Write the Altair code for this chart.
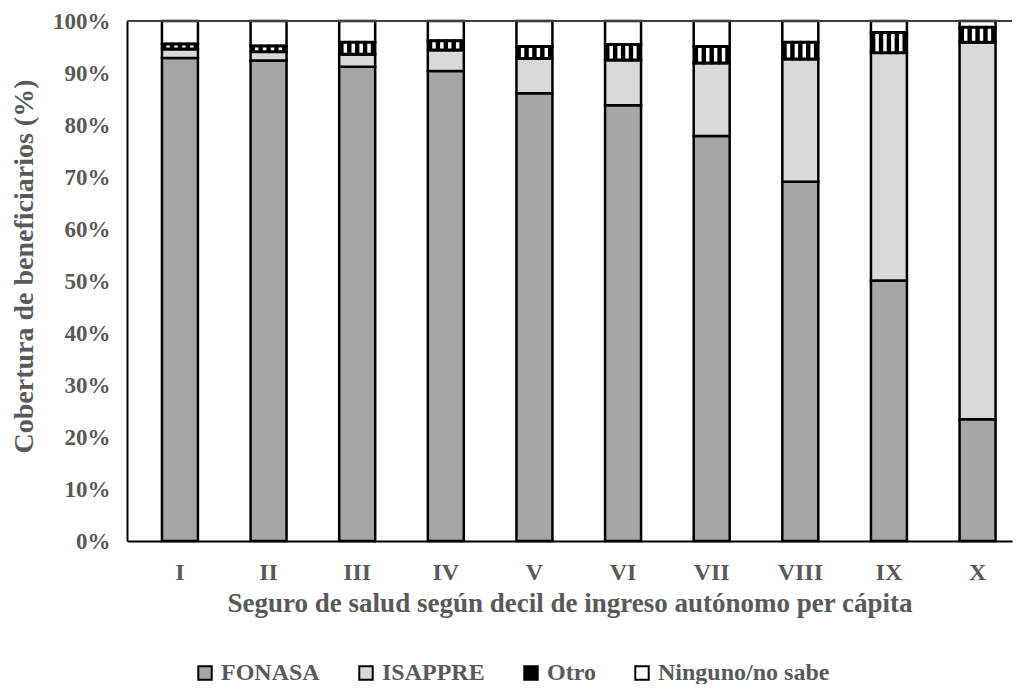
import altair as alt
import pandas as pd

deciles = ["I", "II", "III", "IV", "V", "VI", "VII", "VIII", "IX", "X"]
fonasa = [92.9, 92.4, 91.2, 90.4, 86.1, 83.8, 77.9, 69.1, 50.1, 23.4]
isapre = [1.7, 1.7, 2.4, 4.0, 6.7, 8.7, 14.0, 23.6, 43.8, 72.5]
otro = [1.0, 1.1, 2.3, 1.8, 2.3, 3.0, 3.2, 3.2, 3.9, 2.9]
ninguno = [4.4, 4.8, 4.1, 3.8, 4.9, 4.5, 4.9, 4.1, 2.2, 1.2]

series = ["FONASA", "ISAPPRE", "Otro", "Ninguno/no sabe"]
colors = ["#a6a6a6", "#d9d9d9", "#000000", "#ffffff"]
y_ticks = list(range(0, 101, 10))
stripe_ids = [0, 1, 2, 3]

FONT = "Liberation Serif"
GRAY = "#595959"

rows = []
stripes = []
for i, d in enumerate(deciles):
    base = 0.0
    for k, (s, vals) in enumerate(zip(series, [fonasa, isapre, otro, ninguno])):
        v = vals[i]
        rows.append({"decil": d, "serie": s, "y0": base, "y1": base + v, "orden": k})
        if s == "Otro":
            for sid in stripe_ids:
                stripes.append({"decil": d, "s": sid, "y0": base, "y1": base + v})
        base += v

df = pd.DataFrame(rows)
df_str = pd.DataFrame(stripes)

x_enc = alt.X(
    "decil:N",
    sort=deciles,
    scale=alt.Scale(paddingInner=0.594, paddingOuter=0.29, align=0.68),
    axis=alt.Axis(
        title="Seguro de salud según decil de ingreso autónomo per cápita",
        labelAngle=0,
        ticks=False,
        grid=False,
        domainColor="black",
        domainWidth=2,
        labelPadding=19,
        labelFont=FONT,
        labelFontSize=24,
        labelFontWeight="bold",
        labelColor=GRAY,
        titleFont=FONT,
        titleFontSize=27,
        titleFontWeight="bold",
        titleColor=GRAY,
        titlePadding=6,
    ),
)

y_scale = alt.Scale(domain=[0, 100], nice=False)

bars = alt.Chart(df).mark_bar(stroke="black", strokeWidth=2.5).encode(
    x=x_enc,
    y=alt.Y(
        "y0:Q",
        scale=y_scale,
        axis=alt.Axis(
            values=y_ticks,
            labelExpr="datum.value + '%'",
            ticks=False,
            grid=False,
            domainColor="black",
            domainWidth=2,
            labelPadding=17,
            labelFont=FONT,
            labelFontSize=23,
            labelFontWeight="bold",
            labelColor=GRAY,
            title="Cobertura  de beneficiarios (%)",
            titleFont=FONT,
            titleFontSize=28,
            titleFontWeight="bold",
            titleColor=GRAY,
            titleAngle=270,
            titleX=-103,
            titleY=245,
            titleAlign="center",
            titleBaseline="middle",
        ),
    ),
    y2="y1:Q",
    fill=alt.Fill(
        "serie:N",
        scale=alt.Scale(domain=series, range=colors),
        sort=series,
        legend=alt.Legend(
            title=None,
            orient="none",
            legendX=66,
            legendY=640,
            direction="horizontal",
            symbolType="square",
            symbolSize=180,
            symbolStrokeColor="black",
            symbolStrokeWidth=2,
            symbolOpacity=1,
            labelFont=FONT,
            labelFontSize=24,
            labelFontWeight="bold",
            labelColor=GRAY,
            labelLimit=0,
            columnPadding=34,
            labelOffset=4,
        ),
    ),
)

stripe_layer = alt.Chart(df_str).mark_bar(
    fill="white", stroke="black", strokeWidth=3
).encode(
    x=alt.X("decil:N", sort=deciles),
    xOffset=alt.XOffset(
        "s:O",
        scale=alt.Scale(domain=stripe_ids, paddingInner=0.18, paddingOuter=0.37),
    ),
    y=alt.Y("y0:Q", scale=y_scale),
    y2="y1:Q",
)

top_line = alt.Chart(df).mark_rule(color="#404040", strokeWidth=2).encode(
    y=alt.datum(100)
)

chart = (
    alt.layer(bars, stripe_layer, top_line)
    .properties(
        width=885,
        height=520,
        autosize=alt.AutoSizeParams(type="none"),
        padding={"left": 119, "top": 13, "right": 2, "bottom": 143},
        background="white",
    )
    .configure_view(strokeWidth=0)
)

chart.save("out.html", embed_options={"renderer": "svg", "actions": False})
